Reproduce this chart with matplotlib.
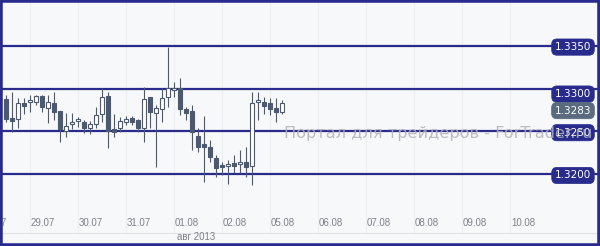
import numpy as np
import matplotlib
matplotlib.use('Agg')
import matplotlib.pyplot as plt
from matplotlib.patches import Rectangle
from matplotlib import transforms

# 3-hour candles, EUR/USD-like quotes
opens = [1.32877, 1.32655, 1.32644, 1.32831, 1.32842, 1.32842, 1.32912, 1.32772,
         1.32831, 1.32737, 1.32504, 1.32585, 1.32620, 1.32609, 1.32539, 1.32585,
         1.32702, 1.32912, 1.32527, 1.32539, 1.32609, 1.32655, 1.32632, 1.32539,
         1.32901, 1.32714, 1.32761, 1.32901, 1.32982, 1.33006, 1.32761, 1.32737,
         1.32445, 1.32352, 1.32317, 1.32188, 1.32107, 1.32095, 1.32130, 1.32118,
         1.32142, 1.32095, 1.32842, 1.32842, 1.32831, 1.32772, 1.32726]
closes = [1.32644, 1.32620, 1.32831, 1.32796, 1.32866, 1.32912, 1.32784, 1.32842,
          1.32726, 1.32527, 1.32562, 1.32609, 1.32644, 1.32539, 1.32585, 1.32690,
          1.32901, 1.32504, 1.32492, 1.32620, 1.32644, 1.32609, 1.32539, 1.32877,
          1.32726, 1.32772, 1.32889, 1.33006, 1.33006, 1.32761, 1.32714, 1.32492,
          1.32317, 1.32317, 1.32200, 1.32071, 1.32083, 1.32118, 1.32095, 1.32142,
          1.32083, 1.32831, 1.32866, 1.32796, 1.32761, 1.32726, 1.32831]
highs = [1.32924, 1.32959, 1.32889, 1.32889, 1.32924, 1.32924, 1.32924, 1.32924,
         1.32959, 1.32737, 1.32714, 1.32714, 1.32667, 1.32632, 1.32620, 1.32784,
         1.33006, 1.32959, 1.32702, 1.32667, 1.32679, 1.32679, 1.32644, 1.33018,
         1.32901, 1.32807, 1.33006, 1.33485, 1.33076, 1.33123, 1.32784, 1.32807,
         1.32539, 1.32679, 1.32398, 1.32223, 1.32142, 1.32165, 1.32223, 1.32282,
         1.32317, 1.32959, 1.32959, 1.32901, 1.32889, 1.32889, 1.32866]
lows = [1.32609, 1.32492, 1.32539, 1.32702, 1.32726, 1.32807, 1.32726, 1.32597,
        1.32632, 1.32375, 1.32434, 1.32527, 1.32550, 1.32480, 1.32469, 1.32539,
        1.32609, 1.32305, 1.32434, 1.32492, 1.32574, 1.32574, 1.32492, 1.32375,
        1.32539, 1.32083, 1.32609, 1.32784, 1.32901, 1.32690, 1.32632, 1.32282,
        1.32258, 1.31908, 1.32142, 1.31966, 1.31989, 1.31885, 1.32013, 1.32013,
        1.31966, 1.31873, 1.32632, 1.32702, 1.32690, 1.32609, 1.32702]

levels = [1.3350, 1.3300, 1.3250, 1.3200]
day_labels = ['26.07', '29.07', '30.07', '31.07', '01.08', '02.08',
              '05.08', '06.08', '07.08', '08.08', '09.08', '10.08']
month_label = 'авг 2013'
watermark = 'Портал для трейдеров - ForTrader.ru'

bg = '#f7f8fa'
navy = '#282b8c'
candle_col = '#4b5a70'
last_col = '#5a6a7f'

opens = np.array(opens)
closes = np.array(closes)
highs = np.array(highs)
lows = np.array(lows)
x = np.arange(len(opens))

fig = plt.figure(figsize=(6, 2.46), dpi=100)
fig.patch.set_facecolor(bg)
ax = fig.add_axes([0, 13 / 246, 1, 233 / 246])
ax.set_facecolor(bg)
ax.set_xlim(-1, 99)
ax.set_ylim(1.313119, 1.340339)
for s in ['top', 'left', 'right']:
    ax.spines[s].set_visible(False)
ax.spines['bottom'].set_color('#e2e3e6')
ax.spines['bottom'].set_linewidth(0.8)
ax.set_xticks([])
ax.set_yticks([])

# day positions (8 candles per day)
tick_pos = -1.83 + 8 * np.arange(len(day_labels))
for p in tick_pos:
    ax.axvline(p - 2.2, color='#eeeff2', lw=0.8, zorder=0)

# levels
for lv in levels:
    ax.axhline(lv, color=navy, lw=1.6, zorder=1)

# candles
up = closes >= opens
bottom = np.minimum(opens, closes)
height = np.maximum(np.abs(closes - opens), 0.00012)
ax.vlines(x, lows, highs, color=candle_col, lw=0.8, zorder=2)
ax.bar(x[up], height[up], bottom=bottom[up], width=0.72, facecolor='white',
       edgecolor=candle_col, linewidth=0.8, zorder=3)
ax.bar(x[~up], height[~up], bottom=bottom[~up], width=0.72, facecolor=candle_col,
       edgecolor=candle_col, linewidth=0.8, zorder=3)

# date labels
trans = transforms.blended_transform_factory(ax.transData, ax.transAxes)
for p, lab in zip(tick_pos, day_labels):
    ax.text(p, 0.043, lab, transform=trans, ha='center', va='center',
            fontsize=7, color='#7f8188', family='Liberation Sans', clip_on=False)
ax.text(tick_pos[4] - 1.75, -0.017, month_label, transform=trans, ha='left',
        va='center', fontsize=7, color='#7f8188', family='Liberation Sans',
        clip_on=False)

# price labels on the right
offsets = {1.3350: -1, 1.3300: -4, 1.3250: -1, 1.3200: -1}
for lv in levels:
    ax.annotate(f'{lv:.4f}', xy=(0.955, lv), xycoords=('axes fraction', 'data'),
                xytext=(0, offsets[lv]), textcoords='offset points',
                ha='center', va='center', fontsize=7.5, color='white', zorder=5,
                bbox=dict(boxstyle='round,pad=0.3,rounding_size=0.5',
                          fc=navy, ec=navy, lw=0.5))
ax.annotate(f'{closes[-1]:.4f}', xy=(0.955, closes[-1]),
            xycoords=('axes fraction', 'data'), xytext=(0, -5.5),
            textcoords='offset points', ha='center', va='center', fontsize=7.5,
            color='white', zorder=5,
            bbox=dict(boxstyle='round,pad=0.3,rounding_size=0.5',
                      fc=last_col, ec=last_col, lw=0.5))

# watermark
wm_trans = transforms.blended_transform_factory(ax.transAxes, ax.transData)
ax.text(0.473, 1.3247, watermark, transform=wm_trans, ha='left', va='center',
        fontsize=11.6, color='#b0b2b8', alpha=0.85, zorder=6)

# frame
fig.add_artist(Rectangle((0, 0), 1, 1, transform=fig.transFigure, fill=False,
                         ec=navy, lw=4))

fig.savefig('out.png', dpi=100, facecolor=bg)
